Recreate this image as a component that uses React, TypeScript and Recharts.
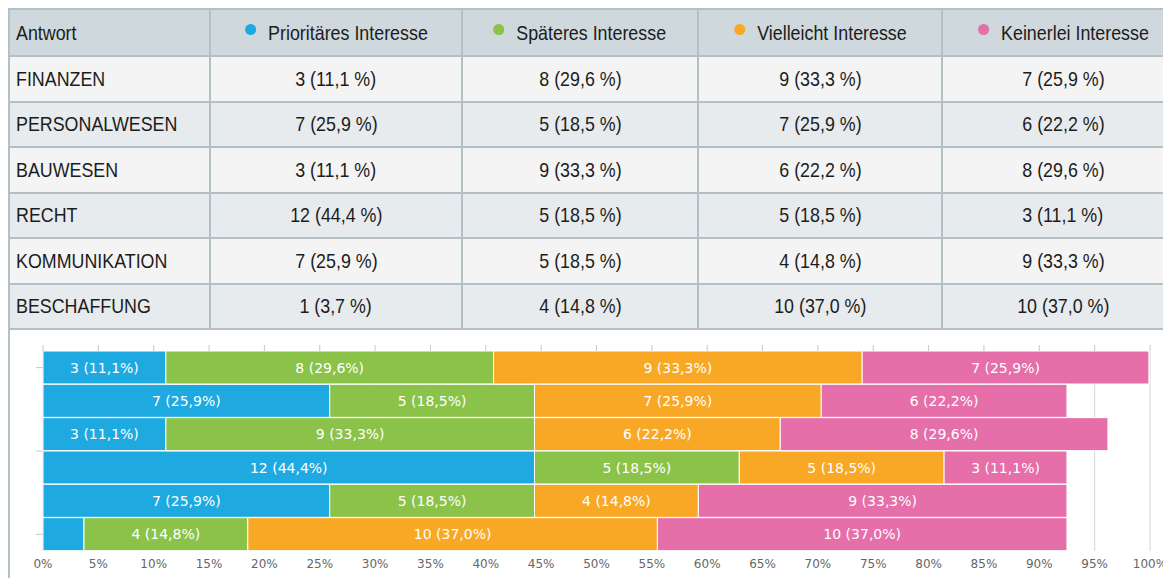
import React from 'react';
import { BarChart, Bar, XAxis, YAxis, CartesianGrid, LabelList } from 'recharts';

const categories = ['FINANZEN', 'PERSONALWESEN', 'BAUWESEN', 'RECHT', 'KOMMUNIKATION', 'BESCHAFFUNG'];
const seriesNames = ['Prioritäres Interesse', 'Späteres Interesse', 'Vielleicht Interesse', 'Keinerlei Interesse'];
const seriesColors = ['#1fa9e1', '#8bc34a', '#f9a825', '#e66ea9'];

const prioritaerCount = [3, 7, 3, 12, 7, 1];
const prioritaerPct = [11.1, 25.9, 11.1, 44.4, 25.9, 3.7];
const spaeteresCount = [8, 5, 9, 5, 5, 4];
const spaeteresPct = [29.6, 18.5, 33.3, 18.5, 18.5, 14.8];
const vielleichtCount = [9, 7, 6, 5, 4, 10];
const vielleichtPct = [33.3, 25.9, 22.2, 18.5, 14.8, 37.0];
const keinerleiCount = [7, 6, 8, 3, 9, 10];
const keinerleiPct = [25.9, 22.2, 29.6, 11.1, 33.3, 37.0];

const xTicks = [0, 5, 10, 15, 20, 25, 30, 35, 40, 45, 50, 55, 60, 65, 70, 75, 80, 85, 90, 95, 100];

const counts = [prioritaerCount, spaeteresCount, vielleichtCount, keinerleiCount];
const pcts = [prioritaerPct, spaeteresPct, vielleichtPct, keinerleiPct];

const fmt = (v: number) => v.toFixed(1).replace('.', ',');

const data = categories.map((name, i) => {
  const row: any = { name };
  counts.forEach((c, s) => {
    row['v' + s] = pcts[s][i];
    row['l' + s] = `${c[i]} (${fmt(pcts[s][i])}%)`;
  });
  return row;
});

const BORDER = '#b3c0c6';
const tableFont = '"Liberation Sans", Arial, sans-serif';
const K = 0.85;

const CHART_W = 1171;
const CHART_H = 256;
const MARGIN = { top: 21, right: 21, bottom: 0, left: 33 };
const Y_AXIS_W = 10;
const X_AXIS_H = 35;
const PLOT_LEFT = MARGIN.left + Y_AXIS_W;
const BAND = (CHART_H - MARGIN.top - MARGIN.bottom - X_AXIS_H) / categories.length;
const TICK_COLOR = '#c8c8c8';

const renderLabel = (props: any) => {
  const { x, y, width, height, value } = props;
  if (width < 55) return null;
  return (
    <text
      x={x + width / 2}
      y={y + height / 2}
      fill="#fff"
      fontSize={14}
      fontFamily='"DejaVu Sans", sans-serif'
      textAnchor="middle"
      dominantBaseline="central"
    >
      {value}
    </text>
  );
};

const XTick = (props: any) => {
  const { x, y, payload } = props;
  return (
    <g>
      <line x1={x} x2={x} y1={MARGIN.top - 6} y2={MARGIN.top} stroke={TICK_COLOR} />
      <text
        x={x}
        y={y}
        dy="0.71em"
        textAnchor="middle"
        fill="#666"
        fontSize={12}
        fontFamily='"DejaVu Sans", sans-serif'
      >
        {payload.value + '%'}
      </text>
    </g>
  );
};

const YTick = (props: any) => {
  const { y, index } = props;
  let yy: number | null = null;
  if (index === 0 || index === categories.length - 1) yy = y;
  if (index === 2) yy = y + BAND / 2;
  if (yy === null) return <g />;
  return <line x1={PLOT_LEFT - 7} x2={PLOT_LEFT} y1={yy} y2={yy} stroke={TICK_COLOR} />;
};

const colWidths = [199, 250, 234, 242, 240];

const Narrow = ({ children, origin }: { children: React.ReactNode; origin: string }) => (
  <span
    style={{
      display: 'inline-flex',
      alignItems: 'center',
      transform: `scaleX(${K})`,
      transformOrigin: origin,
    }}
  >
    {children}
  </span>
);

export default function App() {
  const cellBase: React.CSSProperties = {
    display: 'flex',
    alignItems: 'center',
    fontFamily: tableFont,
    fontSize: 21,
    color: '#1c1c1c',
    whiteSpace: 'nowrap',
    overflow: 'hidden',
  };
  return (
    <div
      style={{
        position: 'relative',
        width: 1171,
        height: 586,
        margin: -8,
        overflow: 'hidden',
        background: '#fff',
      }}
    >
      <div
        style={{
          position: 'absolute',
          left: 8,
          top: 8,
          padding: 2,
          background: BORDER,
          display: 'grid',
          gridTemplateColumns: colWidths.map((w) => w + 'px').join(' '),
          gridTemplateRows: '45px repeat(6, 43.5px)',
          gap: 2,
        }}
      >
        <div style={{ ...cellBase, background: '#cfd8dc', paddingLeft: 6 }}>
          <Narrow origin="left center">Antwort</Narrow>
        </div>
        {seriesNames.map((s, i) => (
          <div key={s} style={{ ...cellBase, background: '#cfd8dc', justifyContent: 'center' }}>
            <Narrow origin="center center">
              <span
                style={{
                  display: 'inline-block',
                  width: 11 / K,
                  height: 11,
                  borderRadius: '50%',
                  background: seriesColors[i],
                  marginRight: 12 / K,
                  marginTop: -6,
                }}
              />
              {s}
            </Narrow>
          </div>
        ))}
        {categories.map((c, r) => {
          const bg = r % 2 === 0 ? '#f4f4f4' : '#e7ebed';
          return (
            <React.Fragment key={c}>
              <div style={{ ...cellBase, background: bg, paddingLeft: 6 }}>
                <Narrow origin="left center">{c}</Narrow>
              </div>
              {counts.map((cnt, s) => (
                <div key={s} style={{ ...cellBase, background: bg, justifyContent: 'center' }}>
                  <Narrow origin="center center">{`${cnt[r]} (${fmt(pcts[s][r])} %)`}</Narrow>
                </div>
              ))}
            </React.Fragment>
          );
        })}
      </div>
      <div style={{ position: 'absolute', left: 8, top: 330, width: 2, height: 256, background: BORDER }} />
      <div style={{ position: 'absolute', left: 0, top: 330 }}>
        <BarChart
          width={CHART_W}
          height={CHART_H}
          layout="vertical"
          data={data}
          margin={MARGIN}
          barCategoryGap={0}
        >
          <CartesianGrid horizontal={false} vertical stroke="#d6d6d6" />
          <XAxis
            type="number"
            domain={[0, 100]}
            ticks={xTicks}
            axisLine={false}
            tickLine={false}
            tick={<XTick />}
            height={X_AXIS_H}
            interval={0}
          />
          <YAxis
            type="category"
            dataKey="name"
            width={Y_AXIS_W}
            axisLine={false}
            tickLine={false}
            tick={<YTick />}
            interval={0}
          />
          {seriesNames.map((s, i) => (
            <Bar
              key={s}
              dataKey={'v' + i}
              name={s}
              stackId="a"
              fill={seriesColors[i]}
              stroke="#fff"
              strokeWidth={1}
              isAnimationActive={false}
            >
              <LabelList dataKey={'l' + i} content={renderLabel} />
            </Bar>
          ))}
        </BarChart>
      </div>
    </div>
  );
}
